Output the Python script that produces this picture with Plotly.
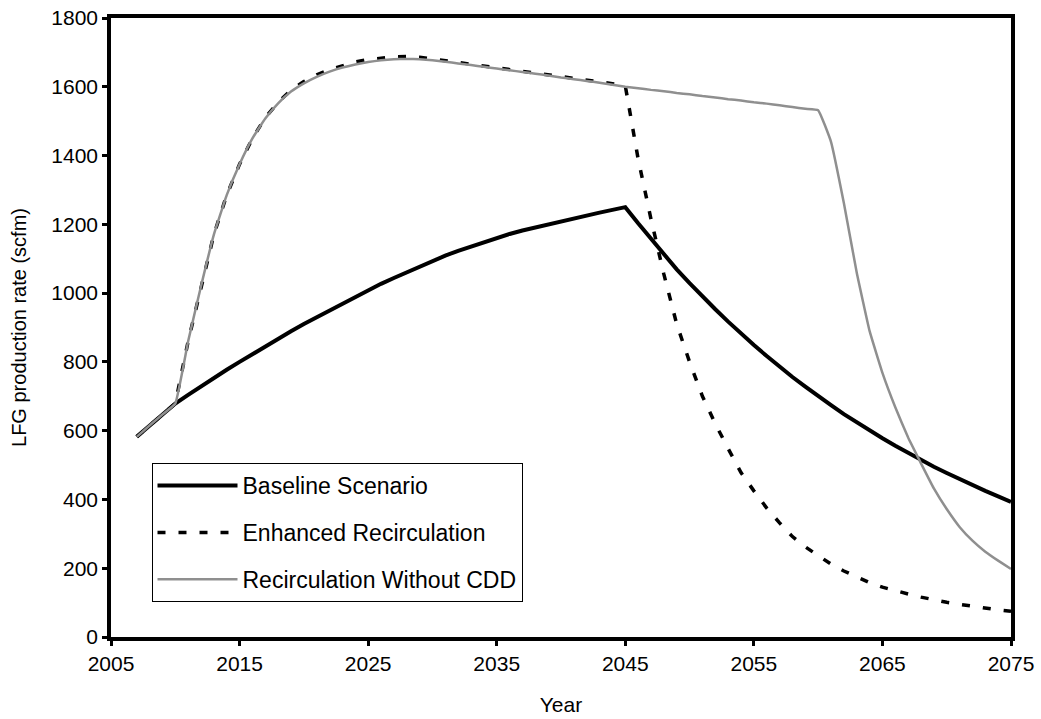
import plotly.graph_objects as go

# LFG production rate (scfm) by year for three landfill gas scenarios
years = list(range(2007, 2076))

baseline = [
    582, 615, 647, 679, 704, 729, 753, 777, 800, 823,
    845, 867, 889, 910, 930, 950, 970, 990, 1010, 1027,
    1044, 1061, 1078, 1095, 1109, 1123, 1136, 1149, 1162, 1172,
    1182, 1191, 1201, 1210, 1218, 1226, 1234, 1242, 1250, 1203,
    1157, 1112, 1069, 1029, 990, 953, 917, 882, 849, 817,
    786, 756, 728, 700, 674, 648, 624, 600, 578, 556,
    535, 515, 495, 477, 459, 441, 425, 409, 393,
]

enhanced = [
    582, 615, 647, 679, 860, 1020, 1170, 1285, 1375, 1450,
    1510, 1555, 1590, 1615, 1635, 1650, 1662, 1672, 1679, 1684,
    1687, 1688, 1686, 1681, 1676, 1671, 1666, 1661, 1656, 1651,
    1646, 1641, 1636, 1630, 1625, 1620, 1615, 1609, 1603, 1390,
    1215, 1055, 910, 800, 700, 620, 548, 478, 425, 375,
    332, 292, 262, 238, 212, 192, 174, 158, 145, 134,
    125, 116, 108, 101, 95, 89, 84, 79, 75,
]

no_cdd = [
    582, 615, 647, 679, 860, 1020, 1170, 1285, 1375, 1450,
    1508, 1552, 1586, 1610, 1629, 1644, 1656, 1665, 1672, 1677,
    1680, 1681, 1680, 1677, 1673, 1668, 1663, 1658, 1653, 1648,
    1643, 1638, 1633, 1627, 1622, 1617, 1612, 1606, 1600, 1596,
    1591, 1587, 1582, 1578, 1573, 1569, 1564, 1560, 1555, 1551,
    1546, 1541, 1536, 1532, 1440, 1262, 1060, 890, 768, 668,
    580, 505, 432, 372, 320, 280, 248, 222, 198,
]

FONT = "Liberation Sans, Arial, sans-serif"

fig = go.Figure()
fig.add_trace(go.Scatter(
    x=years, y=baseline, mode="lines", name="Baseline Scenario",
    line=dict(color="black", width=4), legendgroup="a",
))
fig.add_trace(go.Scatter(
    x=years, y=enhanced, mode="lines", name="Enhanced Recirculation",
    line=dict(color="black", width=3.5, dash="8px,13px"), legendgroup="b",
))
fig.add_trace(go.Scatter(
    x=years, y=no_cdd, mode="lines", name="Recirculation Without CDD",
    line=dict(color="#8f8f8f", width=2.5, shape="spline", smoothing=0.3),
    legendgroup="c",
))

axis_common = dict(
    showgrid=False, zeroline=False, showline=True, linecolor="black",
    linewidth=3.5, mirror=True, ticks="outside", ticklen=5, tickwidth=3,
    tickcolor="black", tickfont=dict(family=FONT, size=21, color="black"),
    automargin=False,
)

fig.update_layout(
    width=1041, height=719,
    margin=dict(l=111, r=30, t=18, b=82),
    paper_bgcolor="white", plot_bgcolor="white",
    font=dict(family=FONT, color="black"),
    xaxis=dict(range=[2005, 2075], tick0=2005, dtick=10,
               title=dict(text="Year", font=dict(family=FONT, size=21), standoff=24),
               **axis_common),
    yaxis=dict(range=[0, 1800], tick0=0, dtick=200,
               title=dict(text="LFG production rate (scfm)", font=dict(family=FONT, size=20), standoff=20),
               **axis_common),
    legend=dict(
        x=0.045, y=0.281, xanchor="left", yanchor="top",
        bordercolor="black", borderwidth=1, bgcolor="white",
        font=dict(family=FONT, size=23, color="black"),
        tracegroupgap=14, itemwidth=80,
    ),
    showlegend=True,
)

fig.write_html("out.html")
